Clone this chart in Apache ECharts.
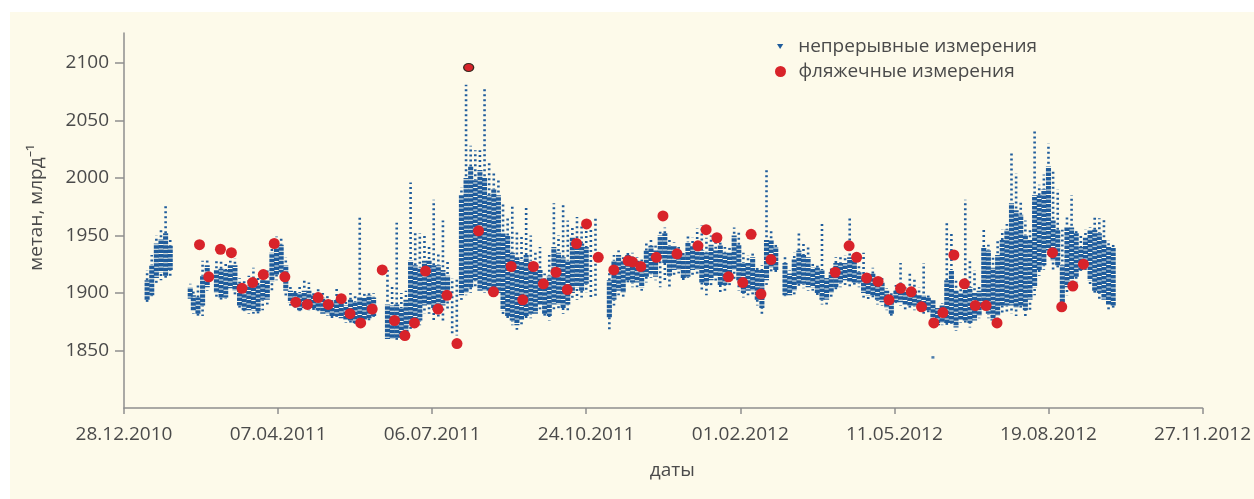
<!DOCTYPE html>
<html>
<head>
<meta charset="utf-8">
<script src="https://cdn.jsdelivr.net/npm/echarts@6/dist/echarts.min.js"></script>
<style>
  html, body { margin: 0; padding: 0; background: #ffffff; }
  #bg { position: absolute; left: 10px; top: 12px; width: 1244px; height: 487px; background: #fdfaea; }
  #chart { position: absolute; left: 0; top: 0; width: 1254px; height: 499px; }
</style>
</head>
<body>
<div id="bg"></div>
<div id="chart"></div>
<script>
// x values are days since 28.12.2010
const xTickLabels = ['28.12.2010', '07.04.2011', '06.07.2011', '24.10.2011', '01.02.2012', '11.05.2012', '19.08.2012', '27.11.2012'];
const yTickValues = [1850, 1900, 1950, 2000, 2050, 2100];
const seriesNames = ['непрерывные измерения', 'фляжечные измерения'];

// continuous measurements, per 3-day column: [day, lowest, dense low, dense high, highest]
const continuous = [
  [15,1892,1894,1911,1920],[18,1896,1898,1924,1933],[21,1907,1913,1943,1950],[24,1911,1918,1947,1955],
  [27,1911,1915,1952,1978],[30,1913,1920,1941,1946],
  [43,1893,1895,1905,1908],[45,1882,1884,1898,1902],[48,1880,1882,1896,1907],[51,1880,1889,1915,1928],
  [54,1902,1905,1924,1930],
  [60,1896,1900,1920,1928],[63,1894,1896,1921,1928],[66,1894,1896,1920,1926],[69,1902,1904,1924,1928],
  [72,1898,1902,1924,1930],[75,1885,1889,1908,1913],[78,1882,1885,1905,1911],[81,1882,1885,1907,1915],
  [84,1882,1885,1911,1922],[87,1880,1884,1907,1915],[90,1885,1894,1911,1917],[93,1890,1894,1911,1920],
  [96,1902,1910,1935,1941],[99,1911,1916,1944,1949],[102,1915,1918,1942,1948],[105,1896,1902,1924,1931],
  [108,1889,1892,1902,1907],[111,1885,1889,1900,1904],[114,1882,1885,1900,1907],[117,1885,1887,1902,1911],
  [120,1885,1887,1902,1909],[123,1885,1887,1898,1902],[126,1882,1885,1898,1905],[129,1880,1882,1896,1900],
  [132,1880,1882,1894,1898],[135,1878,1880,1892,1896],[138,1878,1880,1894,1904],[141,1876,1878,1892,1896],
  [144,1874,1876,1889,1894],[147,1874,1876,1894,1900],[150,1872,1874,1892,1898],[153,1870,1872,1896,1968],
  [156,1874,1876,1896,1900],[159,1876,1878,1898,1902],[162,1878,1880,1896,1900],
  [171,1858,1860,1890,1920],[174,1859,1860,1889,1907],[177,1859,1861,1890,1961],[180,1859,1861,1887,1900],
  [183,1861,1863,1894,1902],[186,1868,1872,1928,1996],[189,1870,1876,1924,1952],[192,1872,1876,1922,1952],
  [195,1882,1889,1928,1952],[198,1882,1889,1928,1940],[201,1876,1887,1924,1981],[204,1878,1889,1924,1934],
  [207,1876,1889,1920,1963],[210,1885,1894,1915,1928],[213,1865,null,null,1913],[216,1863,null,null,1913],
  [219,1894,1898,1985,1992],[222,1898,1900,2000,2081],[225,1900,1905,2010,2028],[228,1905,1911,1998,2024],
  [231,1900,1902,2007,2024],[234,1900,1902,2000,2078],[237,1898,1902,1985,2013],[240,1898,1902,1990,2004],
  [243,1898,1900,1985,2000],[246,1880,1885,1952,1978],[249,1876,1880,1950,1965],[252,1872,1876,1935,1975],
  [255,1868,1872,1931,1955],[258,1872,1876,1928,1950],[261,1876,1880,1933,1976],[264,1878,1882,1928,1950],
  [267,1880,1882,1922,1935],[270,1885,1889,1920,1940],[273,1878,1882,1911,1917],[276,1876,1880,1915,1933],
  [279,1885,1890,1940,1978],[282,1885,1890,1935,1950],[285,1882,1887,1931,1978],[288,1885,1890,1928,1963],
  [291,1894,1900,1948,1957],[294,1894,1905,1946,1966],[297,1896,1902,1943,1960],[300,1900,1908,1940,1963],
  [303,1894,null,null,1957],[306,1896,null,null,1965],
  [315,1867,1879,1911,1920],[318,1889,1894,1928,1933],[321,1898,1902,1933,1937],[324,1896,1900,1928,1931],
  [327,1907,1911,1933,1937],[330,1905,1909,1931,1935],[333,1905,1909,1928,1931],[336,1902,1905,1926,1929],
  [339,1909,1914,1937,1944],[342,1913,1917,1941,1946],[345,1911,1914,1937,1942],[348,1905,1929,1950,1955],
  [351,1911,1926,1952,1957],[354,1905,1915,1941,1946],[357,1915,1920,1941,1944],[360,1917,1920,1937,1940],
  [363,1909,1913,1933,1935],[366,1911,1914,1944,1950],[369,1915,1920,1941,1948],[372,1915,1920,1941,1956],
  [375,1902,1909,1937,1959],[378,1898,1907,1935,1948],[381,1905,1911,1942,1950],[384,1909,1914,1937,1946],
  [387,1900,1907,1942,1946],[390,1902,1907,1935,1940],[393,1905,1911,1935,1940],[396,1911,1920,1950,1957],
  [399,1902,1911,1942,1955],[402,1896,1900,1926,1935],[405,1898,1902,1926,1933],[408,1898,1902,1931,1935],
  [411,1889,1894,1920,1924],[414,1880,1887,1920,1924],[417,1907,1911,1946,2009],[420,1918,1922,1946,1955],
  [423,1917,1920,1940,1942],
  [429,1896,1898,1926,1933],[432,1896,1898,1917,1920],[435,1898,1902,1929,1935],[438,1904,1908,1937,1952],
  [441,1904,1908,1933,1944],[444,1902,1905,1931,1940],[447,1902,1905,1922,1926],[450,1896,1900,1922,1926],
  [453,1890,1894,1920,1960],[456,1890,1894,1913,1915],[459,1896,1900,1918,1922],[462,1902,1905,1926,1931],
  [465,1905,1909,1926,1931],[468,1907,1911,1926,1933],[471,1905,1909,1931,1965],[474,1905,1909,1933,1937],
  [477,1905,1909,1918,1924],[480,1896,1900,1914,1935],[483,1894,1898,1914,1918],[486,1894,1898,1917,1922],
  [489,1890,1894,1909,1913],[492,1889,1892,1909,1913],[495,1885,1887,1902,1904],[498,1878,1882,1898,1902],
  [501,1889,1892,1902,1907],[504,1889,1892,1905,1926],[507,1885,1889,1902,1907],[510,1885,1889,1902,1917],
  [513,1885,1889,1902,1913],[516,1885,1889,1898,1905],[519,1882,1885,1898,1926],[522,1882,1885,1896,1900],
  [525,1870,1872,1894,1894],[528,1870,1872,1887,1889],[531,1872,1874,1889,1891],[534,1870,1874,1911,1963],
  [537,1872,1874,1920,1952],[540,1867,1870,1902,1911],[543,1874,1876,1900,1905],[546,1874,1876,1911,1981],
  [549,1870,1874,1905,1928],[552,1874,1876,1900,1920],[555,1878,1880,1902,1907],[558,1885,1889,1940,1957],
  [561,1878,1882,1937,1942],[564,1874,1876,1922,1933],[567,1876,1880,1933,1946],[570,1882,1889,1946,1955],
  [573,1882,1889,1955,1960],[576,1882,1889,1978,2023],[579,1880,1887,1972,2004],[582,1885,1889,1968,1981],
  [585,1880,1885,1950,1963],[588,1885,1894,1946,1955],[591,1898,1905,1985,2042],[594,1915,1920,1985,1994],
  [597,1920,1924,1990,2003],[600,1933,1937,2010,2030],[603,1920,1928,1963,2007],[606,1920,1924,1955,1990],
  [609,1885,1889,1924,1955],[612,1898,1905,1957,1968],[615,1905,1911,1957,1985],[618,1909,1914,1952,1955],
  [621,1917,1920,1940,1950],[624,1920,1924,1948,1955],[627,1907,1911,1955,1957],[630,1898,1902,1955,1966],
  [633,1894,1900,1952,1965],[636,1892,1894,1946,1965],[639,1885,1889,1940,1946],[642,1885,1889,1940,1942]
];

// isolated continuous readings: [day, value]
const continuousLone = [[525, 1844]];

// flask measurements: [day, value]
const flask = [
  [49,1942],[55,1914],[62.6,1938],[69.7,1935],[76.6,1904],[83.5,1909],[90.4,1916],[97.5,1943],
  [104.4,1914],[111.5,1892],[119,1890],[126,1896],[132.6,1890],[141,1895],[146.7,1882],[153.6,1874],
  [161.1,1886],[167.6,1920],[175.6,1876],[182.3,1863],[188.5,1874],[195.7,1919],[203.8,1886],[209.6,1898],
  [216.1,1856],[223.7,2096],[230.1,1954],[239.8,1901],[251.3,1923],[258.8,1894],[265.7,1923],[272.2,1908],
  [280.4,1918],[287.7,1903],[293.7,1943],[300.2,1960],[307.8,1931],[317.9,1920],[327.2,1928],[330,1927],
  [335.4,1923],[345.5,1931],[349.8,1967],[358.9,1934],[372.5,1941],[377.8,1955],[384.8,1948],[392.3,1914],
  [401.6,1909],[407,1951],[413.4,1899],[419.9,1929],[461.6,1918],[470.6,1941],[475.5,1931],[482,1913],
  [489.4,1910],[496.5,1894],[504,1904],[510.9,1901],[517.6,1888],[525.6,1874],[531.5,1883],[538.6,1933],
  [545.4,1908],[552.5,1889],[559.5,1889],[566.6,1874],[602.6,1935],[608.6,1888],[615.8,1906],[622.7,1925]
];

const BLUE = '#1f5c9c';
const RED = '#d8232a';
const AXIS = '#8e8e8e';
const TEXT = '#4a4a4a';
const FONT = '"Open Sans", "Noto Sans", "DejaVu Sans", sans-serif';

function renderColumn(params, api) {
  const d = api.value(0);
  const mn = api.value(1), lo = api.value(2), hi = api.value(3), mx = api.value(4);
  const w = api.size([3.3, 0])[0];
  const x = api.coord([d, 0])[0];
  const y = v => api.coord([d, v])[1];
  const hasCore = !isNaN(lo) && !isNaN(hi) && lo !== null && hi !== null;
  const children = [];
  const offset = (params.dataIndex % 4) * 1.1;
  const dash = { stroke: BLUE, lineWidth: 2.6, lineDash: [2, 3], lineDashOffset: offset, fill: null };
  if (hasCore) {
    children.push({ type: 'line', shape: { x1: x, y1: y(lo), x2: x, y2: y(hi) },
      style: { stroke: BLUE, lineWidth: w, lineDash: [3.5, 1], lineDashOffset: offset, fill: null } });
    if (mx > hi) children.push({ type: 'line', shape: { x1: x, y1: y(hi), x2: x, y2: y(mx) }, style: dash });
    if (mn < lo) children.push({ type: 'line', shape: { x1: x, y1: y(lo), x2: x, y2: y(mn) }, style: dash });
  } else {
    children.push({ type: 'line', shape: { x1: x, y1: y(mn), x2: x, y2: y(mx) }, style: dash });
  }
  return { type: 'group', children };
}

const maxFlask = Math.max(...flask.map(p => p[1]));
const flaskData = flask.map(p => p[1] === maxFlask
  ? { value: p, symbolSize: [10, 8], itemStyle: { borderColor: '#3b2a20', borderWidth: 1.2 } }
  : { value: p });

const chart = echarts.init(document.getElementById('chart'), null, { renderer: 'canvas' });
chart.setOption({
  animation: false,
  backgroundColor: 'transparent',
  textStyle: { fontFamily: FONT },
  grid: { left: 124, right: 48, top: 33, bottom: 91, containLabel: false },
  legend: [
    {
      data: [{ name: seriesNames[0], icon: 'path://M0,0L10,0L5,8Z' }],
      left: 777, top: 37, padding: 0, itemWidth: 26, itemHeight: 5,
      itemStyle: { color: BLUE },
      textStyle: { fontFamily: FONT, fontSize: 19, color: TEXT }
    },
    {
      data: [{ name: seriesNames[1], icon: 'circle' }],
      left: 775, top: 62, padding: 0, itemWidth: 26, itemHeight: 11,
      textStyle: { fontFamily: FONT, fontSize: 19, color: TEXT }
    }
  ],
  xAxis: {
    type: 'value', min: 0, max: 700, interval: 100,
    name: 'даты', nameLocation: 'middle', nameGap: 53,
    nameTextStyle: { fontSize: 19, color: TEXT, fontFamily: FONT, padding: [0, 0, 0, 18] },
    axisLine: { show: true, lineStyle: { color: AXIS, width: 1.5 } },
    axisTick: { show: true, length: 6, lineStyle: { color: AXIS, width: 1.5 } },
    axisLabel: { margin: 17, fontSize: 19, color: TEXT, fontFamily: FONT,
      formatter: v => xTickLabels[Math.round(v / 100)] || '' },
    splitLine: { show: false }
  },
  yAxis: {
    type: 'value', min: 1800, max: 2126, interval: 50,
    name: 'метан, млрд⁻¹', nameLocation: 'middle', nameGap: 78, nameRotate: 90,
    nameTextStyle: { fontSize: 19, color: TEXT, fontFamily: FONT, padding: [0, 0, 0, 26] },
    axisLine: { show: true, lineStyle: { color: AXIS, width: 1.5 } },
    axisTick: { show: true, length: 9, customValues: yTickValues, lineStyle: { color: AXIS, width: 1.5 } },
    axisLabel: { margin: 15, fontSize: 19, color: TEXT, fontFamily: FONT, customValues: yTickValues,
      formatter: v => String(v) },
    splitLine: { show: false }
  },
  series: [
    {
      name: seriesNames[0], type: 'custom', renderItem: renderColumn,
      encode: { x: 0, y: [1, 4] }, itemStyle: { color: BLUE },
      data: continuous, z: 2, clip: true
    },
    {
      name: seriesNames[0], type: 'scatter', symbol: 'rect', symbolSize: [3, 2.5],
      itemStyle: { color: BLUE }, data: continuousLone, z: 2
    },
    {
      name: seriesNames[1], type: 'scatter', symbol: 'circle', symbolSize: 11,
      itemStyle: { color: RED, opacity: 1 }, data: flaskData, z: 3
    }
  ]
});
</script>
</body>
</html>
